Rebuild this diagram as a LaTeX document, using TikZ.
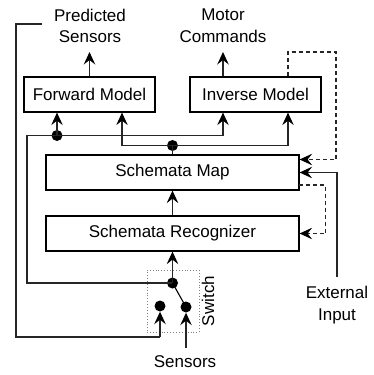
\documentclass[tikz,border=0pt]{standalone}
\usepackage{fontspec}
\setmainfont{Liberation Sans}
\usetikzlibrary{arrows.meta}
\begin{document}
\begin{tikzpicture}[x=1pt,y=-1pt,
  box/.style={draw,line width=1.2pt,minimum width=131pt,minimum height=35pt,inner sep=0pt,font=\fontsize{17}{21.6}\selectfont},
  wide/.style={box,minimum width=253pt},
  lbl/.style={align=center,inner sep=0pt,font=\fontsize{17}{21.6}\selectfont},
  dot/.style={circle,fill,inner sep=0pt,minimum size=11pt},
  conn/.style={line width=1.1pt,draw=black!85},
  arr/.style={conn,-{Stealth[length=12.5pt,width=11.5pt,inset=4.5pt,black]}},
  dsh/.style={dash pattern=on 4pt off 3pt}
]
\useasboundingbox (0,0) rectangle (373,375);
% boxes
\node[box] (fwd) at (89.5,94.5) {Forward Model};
\node[box] (inv) at (255.5,94.5) {Inverse Model};
\node[wide] (map) at (172.5,172.5) {Schemata Map};
\node[wide] (rec) at (172.5,233.5) {Schemata Recognizer};
\node[draw,dotted,gray,line width=0.9pt,minimum width=52pt,minimum height=62pt,inner sep=0pt] (sw) at (173,301) {};
% labels
\node[lbl] (pred) at (90,26) {Predicted\\Sensors};
\node[lbl] (mot) at (223,26) {Motor\\Commands};
\node[lbl] (ext) at (337,305) {External\\Input};
\node[lbl] (sens) at (185,362) {Sensors};
\node[lbl,rotate=90] (swl) at (208,301) {Switch};
% dots
\node[dot] (A) at (172.5,283) {};
\node[dot] (L) at (160,306) {};
\node[dot] (R) at (186,307) {};
\node[dot] (B) at (57,135.5) {};
\node[dot] (C) at (172.5,145.5) {};
% coordinates
\coordinate (a1) at (27,283);
\coordinate (a2) at (27,135.5);
\coordinate (a3) at (223,135.5);
\coordinate (c1) at (122,145.5);
\coordinate (c2) at (288,145.5);
\coordinate (p0) at (42,24);
\coordinate (p1) at (16,24);
\coordinate (p2) at (16,337);
\coordinate (p3) at (160,337);
\coordinate (s0) at (186,348);
\coordinate (fo) at (89.5,52);
\coordinate (io) at (223,52);
\coordinate (d1) at (288,52);
\coordinate (d2) at (336,52);
\coordinate (d3) at (336,159.5);
\coordinate (e0) at (337,277);
\coordinate (e1) at (337,172.5);
\coordinate (f0) at (299,185);
\coordinate (f1) at (325.5,185);
\coordinate (f2) at (325.5,233.5);
% connectors
\draw[arr] (A.center) -- (rec.south);
\draw[arr] (rec.north) -- (map.south);
\draw[conn] (A.center) -- (a1) -- (a2) -- (a3);
\draw[arr] (a3) -- (a3 |- inv.south);
\draw[arr] (B.center) -- (B |- fwd.south);
\draw[conn] (map.north) -- (C.center);
\draw[conn] (c1) -- (c2);
\draw[arr] (c1) -- (c1 |- fwd.south);
\draw[arr] (c2) -- (c2 |- inv.south);
\draw[conn] (p0) -- (p1) -- (p2) -- (p3);
\draw[arr] (p3) -- (L.south);
\draw[arr] (s0) -- (R.south);
\draw[conn,draw=black] (A.center) -- (R.center);
\draw[arr] (fwd.north) -- (fo);
\draw[arr] (io |- inv.north) -- (io);
\draw[arr,dsh] (c2 |- inv.north) -- (d1) -- (d2) -- (d3) -- (map.east |- d3);
\draw[arr] (e0) -- (e1) -- (map.east);
\draw[arr,dsh] (f0) -- (f1) -- (f2) -- (rec.east);
\end{tikzpicture}
\end{document}
